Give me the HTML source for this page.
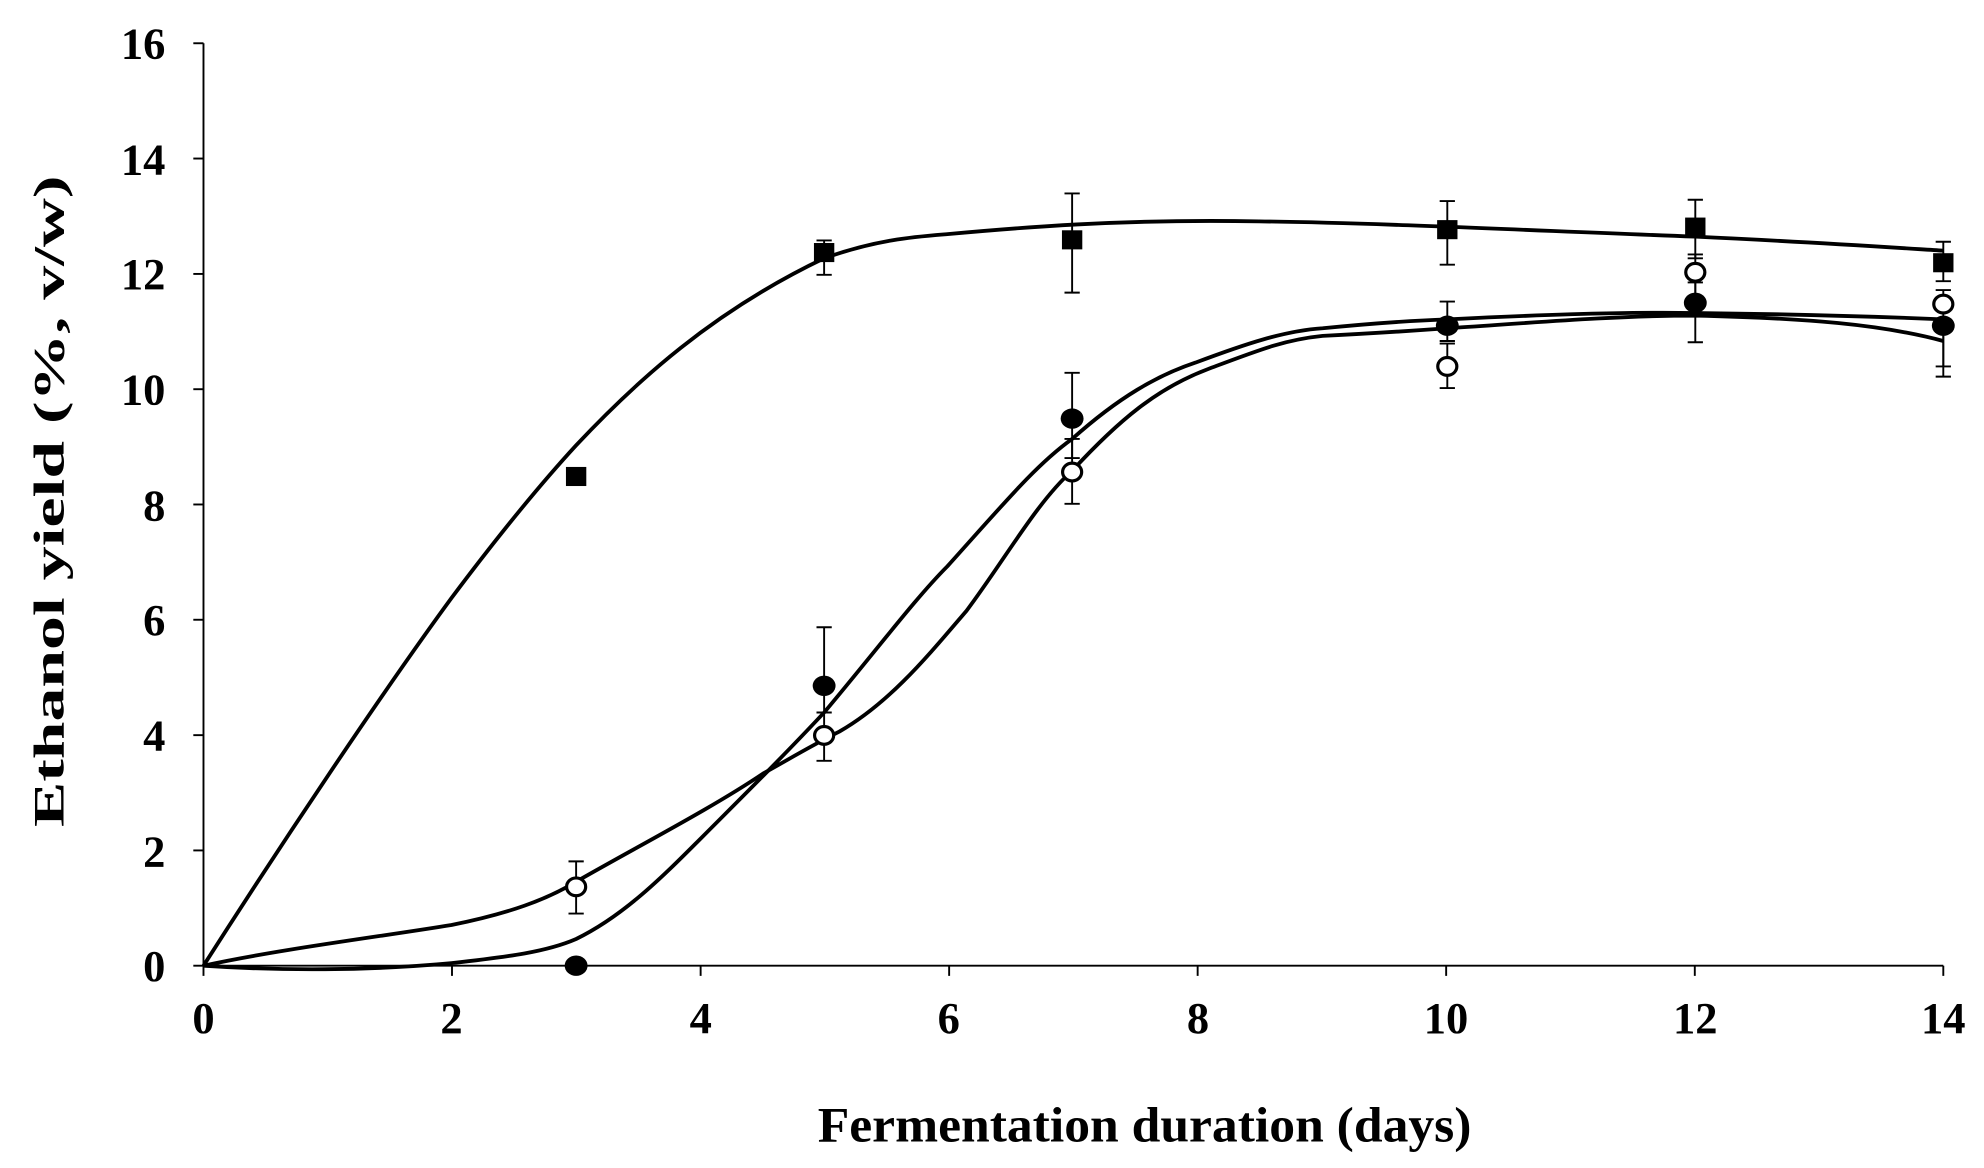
<!DOCTYPE html>
<html><head><style>
html,body{margin:0;padding:0;background:#fff;}
svg{display:block;}
text{font-family:"Liberation Serif",serif;font-weight:bold;fill:#000;}
</style></head><body>
<svg width="1984" height="1168" viewBox="0 0 1560 918" preserveAspectRatio="none">
<g stroke="#000" stroke-width="1.5" fill="none">
<line x1="160" y1="34" x2="160" y2="759"/>
<line x1="160" y1="759" x2="1528" y2="759"/>
<line x1="152" y1="34" x2="160" y2="34"/>
<line x1="152" y1="124.6" x2="160" y2="124.6"/>
<line x1="152" y1="215.3" x2="160" y2="215.3"/>
<line x1="152" y1="305.9" x2="160" y2="305.9"/>
<line x1="152" y1="396.5" x2="160" y2="396.5"/>
<line x1="152" y1="487.1" x2="160" y2="487.1"/>
<line x1="152" y1="577.8" x2="160" y2="577.8"/>
<line x1="152" y1="668.4" x2="160" y2="668.4"/>
<line x1="152" y1="759" x2="160" y2="759"/>
<line x1="160" y1="759" x2="160" y2="767"/>
<line x1="355.4" y1="759" x2="355.4" y2="767"/>
<line x1="550.9" y1="759" x2="550.9" y2="767"/>
<line x1="746.3" y1="759" x2="746.3" y2="767"/>
<line x1="941.7" y1="759" x2="941.7" y2="767"/>
<line x1="1137.1" y1="759" x2="1137.1" y2="767"/>
<line x1="1332.6" y1="759" x2="1332.6" y2="767"/>
<line x1="1528" y1="759" x2="1528" y2="767"/>
</g>
<g font-size="35" text-anchor="end">
<text x="130" y="46">16</text><text x="130" y="137">14</text><text x="130" y="227">12</text>
<text x="130" y="318">10</text><text x="130" y="409">8</text><text x="130" y="499">6</text>
<text x="130" y="590">4</text><text x="130" y="681">2</text><text x="130" y="771">0</text>
</g>
<g font-size="35" text-anchor="middle">
<text x="160" y="812">0</text><text x="355" y="812">2</text><text x="551" y="812">4</text>
<text x="746" y="812">6</text><text x="942" y="812">8</text><text x="1137" y="812">10</text>
<text x="1333" y="812">12</text><text x="1528" y="812">14</text>
<text x="900" y="897" font-size="39" textLength="514" lengthAdjust="spacingAndGlyphs">Fermentation duration (days)</text>
<text transform="translate(50,394) rotate(-90)" font-size="34" textLength="512" lengthAdjust="spacingAndGlyphs">Ethanol yield (%, v/w)</text>
</g>
<g stroke="#000" stroke-width="3" fill="none" stroke-linejoin="round">
<path d="M160,759 C220,665 300,545 355,470 C400,410 430,375 453,350 C500,300 560,245 648,203 C690,188 720,186 745,184 C800,179 880,172 990,174 C1080,175 1200,181 1333,186 C1420,190 1480,194 1528,197"/>
<path d="M160,759 C220,763 290,763 355,757 C400,752 430,748 453,738 C490,720 520,690 550,660 C590,620 620,590 648,560 C690,510 720,470 745,445 C790,395 815,365 843,345 C880,312 910,295 940,285 C980,270 1010,260 1040,258 C1080,254 1110,252 1138,251 C1200,248 1270,245 1333,246 C1420,247 1480,249 1528,251"/>
<path d="M160,759 C220,746 300,736 355,727 C400,718 430,707 453,693 C500,666 560,635 600,608 C625,594 640,585 660,575 C700,552 730,515 760,480 C790,440 815,395 843,370 C880,330 910,305 950,290 C990,275 1010,267 1040,264 C1080,262 1110,260 1138,258 C1200,254 1270,248 1333,248 C1420,250 1480,255 1528,268"/>
</g>
<g stroke="#000" stroke-width="1.5">
<path d="M648,189V216M642,189H654M642,216H654"/>
<path d="M843,152V230M837,152H849M837,230H849"/>
<path d="M1138,158V208M1132,158H1144M1132,208H1144"/>
<path d="M1333,157V203M1327,157H1339M1327,203H1339"/>
<path d="M1528,190V221M1522,190H1534M1522,221H1534"/>
<path d="M648,493V560M642,493H654"/>
<path d="M843,293V360M837,293H849M837,360H849"/>
<path d="M1138,237V268M1132,237H1144M1132,268H1144"/>
<path d="M1333,222V269M1327,222H1339M1327,269H1339"/>
<path d="M1528,228V288M1522,228H1534M1522,288H1534"/>
<path d="M453,677V718M447,677H459M447,718H459"/>
<path d="M648,560V598M642,560H654M642,598H654"/>
<path d="M843,345V396M837,345H849M837,396H849"/>
<path d="M1138,270V305M1132,270H1144M1132,305H1144"/>
<path d="M1333,200V245M1327,200H1339"/>
<path d="M1528,250V296M1522,296H1534"/>
</g>
<g fill="#000">
<rect x="445" y="367" width="16" height="15"/>
<rect x="640" y="191" width="16" height="15"/>
<rect x="835" y="181" width="16" height="15"/>
<rect x="1130" y="173" width="16" height="15"/>
<rect x="1325" y="171" width="16" height="15"/>
<rect x="1520" y="199" width="16" height="15"/>
<ellipse cx="453" cy="759" rx="9" ry="8"/>
<ellipse cx="648" cy="539" rx="9" ry="8"/>
<ellipse cx="843" cy="329" rx="9" ry="8"/>
<ellipse cx="1138" cy="256" rx="9" ry="8"/>
<ellipse cx="1333" cy="238" rx="9" ry="8"/>
<ellipse cx="1528" cy="256" rx="9" ry="8"/>
</g>
<g fill="#fff" stroke="#000" stroke-width="2.5">
<ellipse cx="453" cy="697" rx="7.5" ry="7"/>
<ellipse cx="648" cy="578" rx="7.5" ry="7"/>
<ellipse cx="843" cy="371" rx="7.5" ry="7"/>
<ellipse cx="1138" cy="288" rx="7.5" ry="7"/>
<ellipse cx="1333" cy="214" rx="7.5" ry="7"/>
<ellipse cx="1528" cy="239" rx="7.5" ry="7"/>
</g>
</svg>
</body></html>
